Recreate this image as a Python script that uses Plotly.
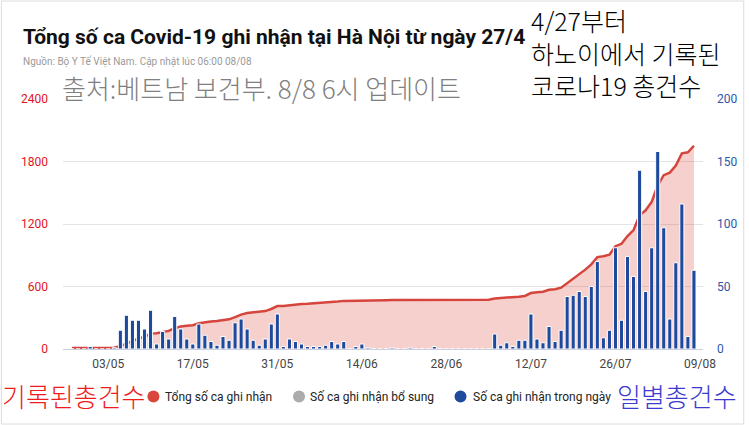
import pandas as pd
import plotly.graph_objects as go

# ---------------- data ----------------
dates = pd.date_range("2021-04-27", "2021-08-08", freq="D")

daily_cases = [
    0, 0, 0, 2, 0, 0, 0, 1, 15, 27,
    23, 23, 16, 31, 4, 14, 8, 26, 16, 8,
    4, 20, 11, 6, 3, 10, 7, 21, 24, 16,
    7, 3, 8, 20, 28, 2, 8, 6, 4, 2,
    2, 2, 3, 6, 4, 6, 0, 2, 4, 1,
    0, 0, 0, 1, 0, 0, 1, 0, 0, 0,
    2, 0, 0, 0, 0, 0, 0, 0, 0, 0,
    12, 3, 5, 2, 7, 7, 28, 8, 5, 18,
    6, 15, 42, 43, 46, 42, 50, 70, 9, 15,
    81, 23, 74, 58, 143, 46, 81, 158, 97, 24,
    69, 116, 10, 63,
]

total_cases = [
    10, 10, 10, 12, 12, 12, 12, 13, 28, 55,
    78, 101, 117, 148, 152, 166, 174, 200, 216, 224,
    228, 248, 259, 265, 268, 278, 285, 306, 330, 346,
    353, 356, 364, 384, 412, 414, 422, 428, 432, 434,
    437, 440, 444, 450, 455, 462, 462, 464, 468, 469,
    469, 469, 469, 470, 470, 470, 471, 471, 471, 471,
    473, 473, 473, 473, 473, 473, 473, 473, 473, 473,
    485, 488, 493, 495, 502, 509, 537, 545, 550, 568,
    574, 589, 631, 674, 720, 762, 812, 882, 891, 906,
    987, 1010, 1084, 1142, 1285, 1331, 1412, 1572, 1669, 1693,
    1762, 1878, 1888, 1951,
]

x_tick_vals = ["2021-05-03", "2021-05-17", "2021-05-31", "2021-06-14",
               "2021-06-28", "2021-07-12", "2021-07-26", "2021-08-09"]
x_tick_text = ["03/05", "17/05", "31/05", "14/06", "28/06", "12/07", "26/07", "09/08"]
left_ticks = [0, 600, 1200, 1800, 2400]
right_ticks = [0, 50, 100, 150, 200]

legend_labels = ["Tổng số ca ghi nhận", "Số ca ghi nhận bổ sung", "Số ca ghi nhận trong ngày"]
legend_colors = ["#d9463c", "#ababab", "#1f4b9e"]

title_text = "Tổng số ca Covid-19 ghi nhận tại Hà Nội từ ngày 27/4"
subtitle_text = "Nguồn: Bộ Y Tế Việt Nam. Cập nhật lúc 06:00 08/08"
kr_source = "출처:베트남 보건부. 8/8 6시 업데이트"
kr_title_lines = ["4/27부터", "하노이에서 기록된", "코로나19 총건수"]
kr_left = "기록된총건수"
kr_right = "일별총건수"

# ---------------- layout helpers ----------------
W, H = 749, 425
ML, MR, MT, MB = 63, 42, 99, 76
PW, PH = W - ML - MR, H - MT - MB


def px(x):
    return (x - ML) / PW


def py(y):
    return (H - MB - y) / PH


FONT = "Roboto, Arial, sans-serif"
KFONT = "Noto Sans CJK KR, sans-serif"

fig = go.Figure()

fig.add_trace(go.Scatter(
    x=dates, y=total_cases, mode="lines", name=legend_labels[0],
    line=dict(color="#d6453d", width=2.5),
    fill="tozeroy", fillcolor="rgba(222,82,72,0.27)",
    showlegend=False, hoverinfo="x+y",
))

fig.add_trace(go.Bar(
    x=dates, y=daily_cases, name=legend_labels[2], yaxis="y2",
    marker=dict(color="#1d4a9c", line=dict(color="white", width=1)),
    width=0.68 * 86400000, showlegend=False,
))

annotations = [
    dict(text=title_text, x=px(21), y=py(37), xanchor="left", yanchor="middle",
         font=dict(family=FONT, size=21, color="#111111", weight="bold")),
    dict(text=subtitle_text, x=px(21), y=py(61), xanchor="left", yanchor="middle",
         font=dict(family=FONT, size=10, color="#9a9a9a")),
    dict(text=kr_source, x=px(60), y=py(88), xanchor="left", yanchor="middle",
         font=dict(family=KFONT, size=26, color="#808080", weight=300)),
    dict(text=kr_left, x=px(0), y=py(395), xanchor="left", yanchor="middle",
         font=dict(family=KFONT, size=26, color="#ee1c1c", weight=300)),
    dict(text=kr_right, x=px(618), y=py(395), xanchor="left", yanchor="middle",
         font=dict(family=KFONT, size=26, color="#3b3bcf", weight=300)),
    dict(text="<br>".join(kr_title_lines), x=px(532), y=py(0), xanchor="left",
         yanchor="top", align="left",
         font=dict(family=KFONT, size=25, color="#000000", weight=300)),
]

shapes = [
    dict(type="rect", xref="paper", yref="paper", x0=px(1), x1=px(748),
         y0=py(424), y1=py(1), line=dict(color="#dcdcdc", width=1), layer="below"),
]
for lab, col, cx, tx in zip(legend_labels, legend_colors, [154, 300.5, 463], [164, 310, 474]):
    shapes.append(dict(type="circle", xref="paper", yref="paper",
                       xsizemode="pixel", ysizemode="pixel",
                       xanchor=px(cx), yanchor=py(396.5),
                       x0=-6, x1=6, y0=-6, y1=6,
                       fillcolor=col, line=dict(width=0)))
    annotations.append(dict(text=lab, x=px(tx), y=py(396.5), xanchor="left",
                            yanchor="middle",
                            font=dict(family=FONT, size=12, color="#222222")))

for a in annotations:
    a.update(xref="paper", yref="paper", showarrow=False)

fig.update_layout(
    width=W, height=H,
    margin=dict(l=ML, r=MR, t=MT, b=MB, pad=0),
    paper_bgcolor="white", plot_bgcolor="white",
    showlegend=False,
    annotations=annotations,
    shapes=shapes,
    xaxis=dict(
        type="date",
        range=["2021-04-25 12:00", "2021-08-09 12:00"],
        tickvals=x_tick_vals, ticktext=x_tick_text,
        showgrid=False, zeroline=False, showline=False,
        ticks="", ticklabelstandoff=6,
        tickfont=dict(family=FONT, size=12, color="#444444"),
    ),
    yaxis=dict(
        range=[0, 2400], tickvals=left_ticks,
        showgrid=True, gridcolor="#e3e3e3", gridwidth=1,
        zeroline=True, zerolinecolor="#c9d0e2", zerolinewidth=1,
        showline=False, ticks="", ticklabelstandoff=14,
        tickfont=dict(family=FONT, size=12, color="#e3141b"),
    ),
    yaxis2=dict(
        range=[0, 200], tickvals=right_ticks, overlaying="y", side="right",
        showgrid=False, zeroline=False, showline=False, ticks="",
        ticklabelstandoff=13,
        tickfont=dict(family=FONT, size=12, color="#2e57a6"),
    ),
)

fig.write_html(
    "out.html",
    config={"displayModeBar": False},
    post_script="document.body.style.margin='0';document.body.style.overflow='hidden';",
)
